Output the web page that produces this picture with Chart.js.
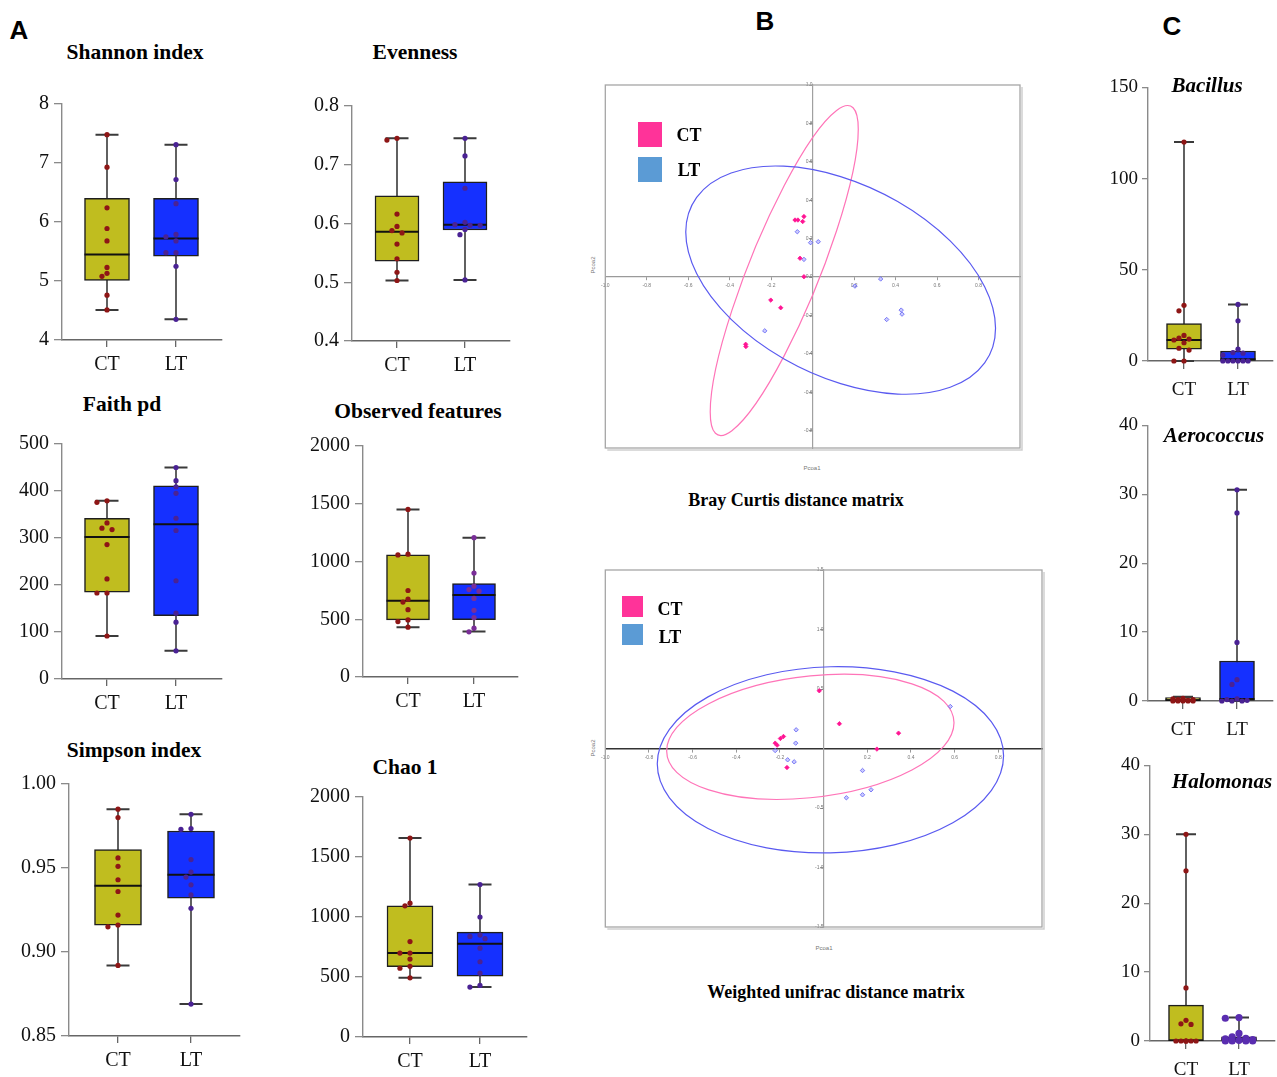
<!DOCTYPE html>
<html><head><meta charset="utf-8">
<script src="https://cdn.jsdelivr.net/npm/chart.js@4.4.1/dist/chart.umd.min.js"></script>
<style>
html,body{margin:0;padding:0;background:#fff;}
body{width:1277px;height:1077px;position:relative;overflow:hidden;}
.c{position:absolute;}
.t{position:absolute;white-space:nowrap;transform:translate(-50%,-50%);color:#000;line-height:1;}
.sq{position:absolute;}
</style></head><body>
<script>
// ===== DATA =====
const groups = ['CT','LT'];
// box stats: [min, q1, median, q3, max]
const shannonTicks=[4,5,6,7,8];
const shannonCT=[7.48,6.93,6.24,5.89,5.68,5.23,5.13,5.08,4.76,4.51];
const shannonLT=[7.31,6.72,6.31,5.79,5.75,5.68,5.48,5.48,5.25,4.35];
const shannonBoxCT=[4.51,5.01,5.45,6.40,7.48];
const shannonBoxLT=[4.35,5.42,5.72,6.40,7.31];

const evenTicks=[0.4,0.5,0.6,0.7,0.8];
const evenCT=[0.745,0.742,0.616,0.595,0.588,0.584,0.565,0.540,0.517,0.503];
const evenLT=[0.745,0.715,0.660,0.602,0.598,0.597,0.597,0.590,0.581,0.504];
const evenBoxCT=[0.503,0.536,0.586,0.647,0.745];
const evenBoxLT=[0.504,0.589,0.598,0.671,0.745];

const faithTicks=[0,100,200,300,400,500];
const faithCT=[379,376,332,321,318,286,213,183,183,91.5];
const faithLT=[450,422,409,395,342,316,209,140,121,60];
const faithBoxCT=[91.5,185,302,342,379];
const faithBoxLT=[60,135,329,411,450];

const obsTicks=[0,500,1000,1500,2000];
const obsCT=[1451,1063,1057,749,674,649,583,494,480,431];
const obsLT=[1206,900,786,757,743,680,577,514,423,391];
const obsBoxCT=[431,494,660,1057,1451];
const obsBoxLT=[394,497,709,809,1206];

const simpTicks=[0.85,0.90,0.95,1.00];
const simpCT=[0.985,0.980,0.956,0.951,0.943,0.936,0.922,0.916,0.915,0.892];
const simpLT=[0.982,0.9735,0.973,0.955,0.9476,0.9446,0.940,0.934,0.926,0.869];
const simpBoxCT=[0.892,0.916,0.9395,0.961,0.985];
const simpBoxLT=[0.869,0.932,0.946,0.972,0.982];

const chaoTicks=[0,500,1000,1500,2000];
const chaoCT=[1658,1115,1093,795,699,699,649,589,573,493];
const chaoLT=[1271,1000,849,838,819,740,627,532,430,416];
const chaoBoxCT=[493,586,699,1093,1658];
const chaoBoxLT=[416,507,778,874,1271];

const bacTicks=[0,50,100,150];
const bacCT=[120,30.5,27.5,14,12.5,12,11.5,10,7,6,0,0];
const bacLT=[31,22,6.5,4.6,4.3,3.3,0,0,0,0,0,0];
const bacBoxCT=[0,6.5,11.5,20.5,120];
const bacBoxLT=[0,0,1,5.5,31];

const aeroTicks=[0,10,20,30,40];
const aeroCT=[0.4,0.3,0.2,0.2,0.1,0.1,0,0,0,0,0];
const aeroLT=[30.65,27.3,8.5,3.1,2.4,0.3,0.2,0.1,0,0,0];
const aeroBoxCT=[0,0,0.1,0.5,0.6];
const aeroBoxLT=[0,0,0.3,5.8,30.65];

const haloTicks=[0,10,20,30,40];
const haloCT=[30,24.7,7.7,3.0,2.5,2.4,0,0,0,0,0,0,0];
const haloLT=[3.4,3.3,1.1,0.6,0.4,0.3,0.2,0.1,0,0,0,0];
const haloBoxCT=[0,0,0,5.2,30];
const haloBoxLT=[0,0,0.2,0.6,3.4];

// PCoA (Bray Curtis)
const bcXTicks=[-1.0,-0.8,-0.6,-0.4,-0.2,0.2,0.4,0.6,0.8];
const bcYTicks=[-0.8,-0.6,-0.4,-0.2,0.0,0.2,0.4,0.6,0.8,1.0];
const bcCTx=[-0.085,-0.071,-0.048,-0.042,-0.061,-0.042,-0.202,-0.154,-0.323,-0.322];
const bcCTy=[0.297,0.297,0.289,0.315,0.098,0.002,-0.120,-0.160,-0.350,-0.362];
const bcLTx=[-0.074,-0.010,0.027,-0.042,-0.231,0.328,0.204,0.357,0.427,0.431];
const bcLTy=[0.236,0.179,0.184,0.092,-0.280,-0.010,-0.047,-0.221,-0.172,-0.193];
// ellipse: centre, two conjugate semi-axis vectors (data units)
const bcEllCT={c:[-0.137,0.034],u:[0.357,0.736],v:[0,-0.443]};
const bcEllLT={c:[0.135,-0.016],u:[0.747,-0.250],v:[0,-0.539]};

// PCoA (Weighted unifrac)
const wuXTicks=[-1.0,-0.8,-0.6,-0.4,-0.2,0.2,0.4,0.6,0.8];
const wuYTicks=[-1.5,-1.0,-0.5,0.5,1.0,1.5];
const wuCTx=[-0.020,0.072,0.343,0.244,-0.184,-0.198,-0.222,-0.213,-0.168];
const wuCTy=[0.485,0.208,0.129,-0.005,0.101,0.084,0.045,0.028,-0.160];
const wuLTx=[0.580,-0.126,-0.128,-0.222,-0.165,-0.135,0.178,0.217,0.178,0.104];
const wuLTy=[0.353,0.157,0.045,-0.017,-0.095,-0.112,-0.185,-0.347,-0.389,-0.414];
const wuEllCT={c:[-0.061,0.098],u:[0.658,0.118],v:[0,-0.512]};
const wuEllLT={c:[0.031,-0.095],u:[0.793,0.034],v:[0,-0.782]};

// ===== STYLE / LAYOUT =====
Chart.defaults.font.family='"Liberation Serif", "Times New Roman", serif';
const COL={ctBox:'#C0BD1F',ltBox:'#1530FF',ctDot:'#8E1616',ltDot:'#4A2294',axis:'#8a8a8a',whisk:'#3a3a3a'};
const styleA={yW:62,xH:44,font:20,r:2.6,cap:11.5,ytl:8,ypad:5,xtl:7,xpad:6};
const styleC={yW:50,xH:46,font:19,r:2.6,cap:10,ytl:6,ypad:4,xtl:8,xpad:10};

function mkCanvas(left,top,w,h){
  left=Math.round(left);top=Math.round(top);w=Math.round(w);h=Math.round(h);
  const d=document.createElement('div');d.className='c';
  d.style.left=left+'px';d.style.top=top+'px';d.style.width=w+'px';d.style.height=h+'px';
  const c=document.createElement('canvas');c.width=w;c.height=h;c.style.width=w+'px';c.style.height=h+'px';
  d.appendChild(c);document.body.appendChild(d);return c;
}

// beeswarm layout, offsets limited to the box half-width
function swarm(vals,cx,r,pxY,unitPx,maxOff){
  const d=2*r+0.4;
  const placed=[];const out=[];
  const idx=vals.map((v,i)=>i).sort((a,b)=>vals[b]-vals[a]);
  const step=d*0.9;
  const cands=[0];for(let j=1;j<30;j++){if(j*step>maxOff)break;cands.push(-j*step,j*step);}
  idx.forEach(i=>{
    const py=vals[i]*pxY;
    let best=0,bestD=-1;
    for(const o of cands){
      const md=placed.length?Math.min(...placed.map(p=>Math.hypot(p[0]-o,p[1]-py))):1e9;
      if(md>=d){best=o;bestD=md;break;}
      if(md>bestD){bestD=md;best=o;}
    }
    placed.push([best,py]);
    out.push({x:cx+best/unitPx,y:vals[i]});
  });
  return out;
}

function makeBox(p,st){
  const g=p.g;const padTop=14,padRight=4;
  const left=g.axisX-st.yW, top=g.topPx-padTop;
  const W=g.rightPx-left+padRight, H=g.botPx-top+st.xH;
  const unit=g.ltX-g.ctX;
  const xmin=1-(g.ctX-g.axisX)/unit, xmax=2+(g.rightPx-g.ltX)/unit;
  const ymin=p.ticks[0], ymax=p.ticks[p.ticks.length-1];
  const pxY=(g.botPx-g.topPx)/(ymax-ymin);
  const cap=st.cap/unit, half=g.boxW/2/unit;
  const whisk=[],caps=[],meds=[];
  [p.sCT,p.sLT].forEach((s,i)=>{const x=i+1;
    whisk.push({x:x,y:s[0]},{x:x,y:s[4]},{x:x+0.5,y:null});
    caps.push({x:x-cap,y:s[4]},{x:x+cap,y:s[4]},{x:x,y:null},{x:x-cap,y:s[0]},{x:x+cap,y:s[0]},{x:x+0.5,y:null});
    meds.push({x:x-half,y:s[2]},{x:x+half,y:s[2]},{x:x+0.5,y:null});
  });
  const rLT=p.rLT||st.r;
  const canvas=mkCanvas(left,top,W,H);
  new Chart(canvas,{
    type:'bar',
    data:{datasets:[
      {type:'line',data:whisk,borderColor:COL.whisk,borderWidth:1.6,pointRadius:0,spanGaps:false,order:6,clip:false},
      {type:'line',data:caps,borderColor:COL.whisk,borderWidth:2,pointRadius:0,spanGaps:false,order:6,clip:false},
      {type:'bar',data:[{x:1,y:[p.sCT[1],p.sCT[3]]},{x:2,y:[p.sLT[1],p.sLT[3]]}],
        backgroundColor:[COL.ctBox,COL.ltBox],borderColor:'#1e1e1e',borderWidth:1.5,borderSkipped:false,
        barThickness:g.boxW,order:5},
      {type:'line',data:meds,borderColor:'#111',borderWidth:2,pointRadius:0,spanGaps:false,order:4},
      {type:'scatter',data:swarm(p.ct,1,st.r,pxY,unit,g.boxW/2-st.r),backgroundColor:COL.ctDot,borderWidth:0,pointRadius:st.r,order:2,clip:false},
      {type:'scatter',data:swarm(p.lt,2,rLT,pxY,unit,g.boxW/2-rLT*0.6),backgroundColor:p.ltDot||COL.ltDot,borderWidth:0,pointRadius:rLT,order:1,clip:false}
    ]},
    options:{responsive:false,animation:false,devicePixelRatio:1,events:[],
      layout:{padding:{top:padTop,right:padRight,left:0,bottom:0}},
      plugins:{legend:{display:false},tooltip:{enabled:false},title:{display:false}},
      scales:{
        x:{type:'linear',min:xmin,max:xmax,offset:false,
          afterBuildTicks:s=>{s.ticks=[{value:1},{value:2}];},
          ticks:{callback:v=>groups[Math.round(v)-1]||'',font:{size:st.font},color:'#111',padding:st.xpad,autoSkip:false,maxRotation:0},
          grid:{display:true,drawOnChartArea:false,drawTicks:true,tickLength:st.xtl,color:'#666',lineWidth:1.3,offset:false},
          border:{display:true,color:'#666',width:1.4},
          afterFit:s=>{s.height=st.xH;}},
        y:{type:'linear',min:ymin,max:ymax,
          afterBuildTicks:s=>{s.ticks=p.ticks.map(v=>({value:v}));},
          ticks:{callback:v=>v.toFixed(p.dec),font:{size:st.font},color:'#111',padding:st.ypad,autoSkip:false},
          grid:{display:true,drawOnChartArea:false,drawTicks:true,tickLength:st.ytl,color:COL.axis,lineWidth:1.3},
          border:{display:true,color:COL.axis,width:1.4},
          afterFit:s=>{s.width=st.yW;}}
      }}
  });
}

const boxPanels=[
  {ct:shannonCT,lt:shannonLT,sCT:shannonBoxCT,sLT:shannonBoxLT,ticks:shannonTicks,dec:0,st:styleA,
    g:{axisX:62,topPx:101,botPx:340,rightPx:222,ctX:107,ltX:176,boxW:45}},
  {ct:evenCT,lt:evenLT,sCT:evenBoxCT,sLT:evenBoxLT,ticks:evenTicks,dec:1,st:styleA,
    g:{axisX:352,topPx:103,botPx:341,rightPx:510,ctX:397,ltX:465,boxW:44}},
  {ct:faithCT,lt:faithLT,sCT:faithBoxCT,sLT:faithBoxLT,ticks:faithTicks,dec:0,st:styleA,
    g:{axisX:62,topPx:441,botPx:679,rightPx:222,ctX:107,ltX:176,boxW:45}},
  {ct:obsCT,lt:obsLT,sCT:obsBoxCT,sLT:obsBoxLT,ticks:obsTicks,dec:0,st:styleA,ltDot:'#7A2E98',
    g:{axisX:363,topPx:443,botPx:677,rightPx:518,ctX:408,ltX:474,boxW:43}},
  {ct:simpCT,lt:simpLT,sCT:simpBoxCT,sLT:simpBoxLT,ticks:simpTicks,dec:2,st:styleA,
    g:{axisX:69,topPx:781,botPx:1036,rightPx:240,ctX:118,ltX:191,boxW:47}},
  {ct:chaoCT,lt:chaoLT,sCT:chaoBoxCT,sLT:chaoBoxLT,ticks:chaoTicks,dec:0,st:styleA,
    g:{axisX:363,topPx:794,botPx:1037,rightPx:527,ctX:410,ltX:480,boxW:46}},
  {ct:bacCT,lt:bacLT,sCT:bacBoxCT,sLT:bacBoxLT,ticks:bacTicks,dec:0,st:styleC,
    g:{axisX:1148,topPx:86,botPx:361,rightPx:1273,ctX:1184,ltX:1238,boxW:35}},
  {ct:aeroCT,lt:aeroLT,sCT:aeroBoxCT,sLT:aeroBoxLT,ticks:aeroTicks,dec:0,st:styleC,
    g:{axisX:1148,topPx:424,botPx:701,rightPx:1273,ctX:1183,ltX:1237,boxW:35}},
  {ct:haloCT,lt:haloLT,sCT:haloBoxCT,sLT:haloBoxLT,ticks:haloTicks,dec:0,st:styleC,rLT:3.6,ltDot:'#5A2DB0',
    g:{axisX:1150,topPx:764,botPx:1041,rightPx:1275,ctX:1186,ltX:1239,boxW:35}}
];
boxPanels.forEach(p=>makeBox(p,p.st));

function zip(xs,ys){return xs.map((x,i)=>({x:x,y:ys[i]}));}
function makePcoa(c){
  const pad=7;
  const canvas=mkCanvas(c.L-pad,c.T-pad,c.R-c.L+2*pad,c.B-c.T+2*pad);
  const deco={id:'deco',
    beforeDatasetsDraw(chart){
      const ctx=chart.ctx,x=chart.scales.x,y=chart.scales.y,a=chart.chartArea;
      ctx.save();
      ctx.strokeStyle='#a6a6a6';ctx.lineWidth=1.3;
      ctx.strokeRect(a.left,a.top,a.right-a.left,a.bottom-a.top);
      ctx.strokeStyle='#cfcfcf';ctx.lineWidth=1.5;
      ctx.beginPath();ctx.moveTo(a.left+2,a.bottom+2);ctx.lineTo(a.right+2,a.bottom+2);ctx.lineTo(a.right+2,a.top+2);ctx.stroke();
      ctx.restore();
      c.ell.forEach(e=>{
        const cx=x.getPixelForValue(e.c[0]),cy=y.getPixelForValue(e.c[1]);
        const ux=x.getPixelForValue(e.c[0]+e.u[0])-cx,uy=y.getPixelForValue(e.c[1]+e.u[1])-cy;
        const vx=x.getPixelForValue(e.c[0]+e.v[0])-cx,vy=y.getPixelForValue(e.c[1]+e.v[1])-cy;
        ctx.save();ctx.beginPath();ctx.transform(ux,uy,vx,vy,cx,cy);ctx.arc(0,0,1,0,Math.PI*2);ctx.restore();
        ctx.save();ctx.strokeStyle=e.col;ctx.lineWidth=1.2;ctx.stroke();ctx.restore();
      });
    }};
  new Chart(canvas,{
    type:'scatter',
    data:{datasets:[
      {data:zip(c.ctx,c.cty),pointStyle:'rectRot',pointRadius:2.2,backgroundColor:'#FF1493',borderColor:'#FF1493',borderWidth:0.8},
      {data:zip(c.ltx,c.lty),pointStyle:'rectRot',pointRadius:2.2,backgroundColor:'rgba(150,150,255,0.5)',borderColor:'#6E6EF5',borderWidth:0.9}
    ]},
    options:{responsive:false,animation:false,devicePixelRatio:1,events:[],
      layout:{padding:pad},
      plugins:{legend:{display:false},tooltip:{enabled:false}},
      scales:{
        x:{type:'linear',min:-1,max:1,position:{y:0},
          afterBuildTicks:s=>{s.ticks=c.xt.map(v=>({value:v}));},
          ticks:{callback:v=>v.toFixed(1),font:{size:5,family:'"Liberation Sans", Arial, sans-serif'},color:'#777',padding:3,autoSkip:false,maxRotation:0},
          grid:{drawOnChartArea:false,tickLength:3,color:'#999'},
          border:{color:c.xCol,width:c.xW},
          afterFit:s=>{s.height=0;}},
        y:{type:'linear',min:c.ymin,max:c.ymax,position:{x:0},
          afterBuildTicks:s=>{s.ticks=c.yt.map(v=>({value:v}));},
          ticks:{callback:v=>v.toFixed(1),font:{size:5,family:'"Liberation Sans", Arial, sans-serif'},color:'#777',padding:1,autoSkip:false},
          grid:{drawOnChartArea:false,tickLength:3,color:'#999'},
          border:{color:'#a0a0a0',width:1.2},
          afterFit:s=>{s.width=0;}}
      }},
    plugins:[deco]
  });
}
makePcoa({L:605,T:85,R:1020,B:448,ymin:-0.89,ymax:1.0,xt:bcXTicks,yt:bcYTicks,
  ctx:bcCTx,cty:bcCTy,ltx:bcLTx,lty:bcLTy,xCol:'#9a9a9a',xW:1.2,
  ell:[Object.assign({col:'#FF74B8'},bcEllCT),Object.assign({col:'#5A5AF0'},bcEllLT)]});
makePcoa({L:605,T:570,R:1042,B:927,ymin:-1.5,ymax:1.5,xt:wuXTicks,yt:wuYTicks,
  ctx:wuCTx,cty:wuCTy,ltx:wuLTx,lty:wuLTy,xCol:'#333',xW:1.6,
  ell:[Object.assign({col:'#FF74B8'},wuEllCT),Object.assign({col:'#5A5AF0'},wuEllLT)]});

// ===== TEXT =====
const SERIF='"Liberation Serif","Times New Roman",serif', SANS='"Liberation Sans",Arial,sans-serif';
function txt(s,x,y,o){
  const d=document.createElement('div');d.className='t';d.textContent=s;
  d.style.left=x+'px';d.style.top=y+'px';
  d.style.fontFamily=o.f||SERIF;d.style.fontSize=(o.s||21)+'px';d.style.fontWeight=o.w||'bold';
  if(o.i)d.style.fontStyle='italic';
  if(o.c)d.style.color=o.c;
  if(o.rot)d.style.transform='translate(-50%,-50%) rotate(-90deg)';
  document.body.appendChild(d);
}
function sq(x,y,w,h,c){const d=document.createElement('div');d.className='sq';
  d.style.left=x+'px';d.style.top=y+'px';d.style.width=w+'px';d.style.height=h+'px';d.style.background=c;document.body.appendChild(d);}

txt('A',19,30,{f:SANS,s:26});
txt('B',765,21,{f:SANS,s:26});
txt('C',1172,26,{f:SANS,s:26});
txt('Shannon index',135,53,{s:21.5});
txt('Evenness',415,53,{s:21.5});
txt('Faith pd',122,405,{s:21.5});
txt('Observed features',418,412,{s:21.5});
txt('Simpson index',134,751,{s:21.5});
txt('Chao 1',405,768,{s:21.5});
txt('Bacillus',1207,85,{i:true});
txt('Aerococcus',1214,435,{i:true});
txt('Halomonas',1222,781,{i:true});
txt('Bray Curtis distance matrix',796,500,{s:18});
txt('Weighted unifrac distance matrix',836,992,{s:18});
// legends
sq(638,122,24,25,'#FF3399');sq(638,157,24,25,'#5B9BD5');
txt('CT',689,135,{s:18});txt('LT',689,170,{s:18});
sq(622,596,21,21,'#FF3399');sq(622,624,21,21,'#5B9BD5');
txt('CT',670,609,{s:18});txt('LT',670,637,{s:18});
// axis titles (PCoA)
txt('Pcoa1',812,468,{f:SANS,s:6,w:'normal',c:'#777'});
txt('Pcoa2',593,265,{f:SANS,s:6,w:'normal',c:'#777',rot:true});
txt('Pcoa1',824,948,{f:SANS,s:6,w:'normal',c:'#777'});
txt('Pcoa2',593,748,{f:SANS,s:6,w:'normal',c:'#777',rot:true});
</script>
</body></html>
